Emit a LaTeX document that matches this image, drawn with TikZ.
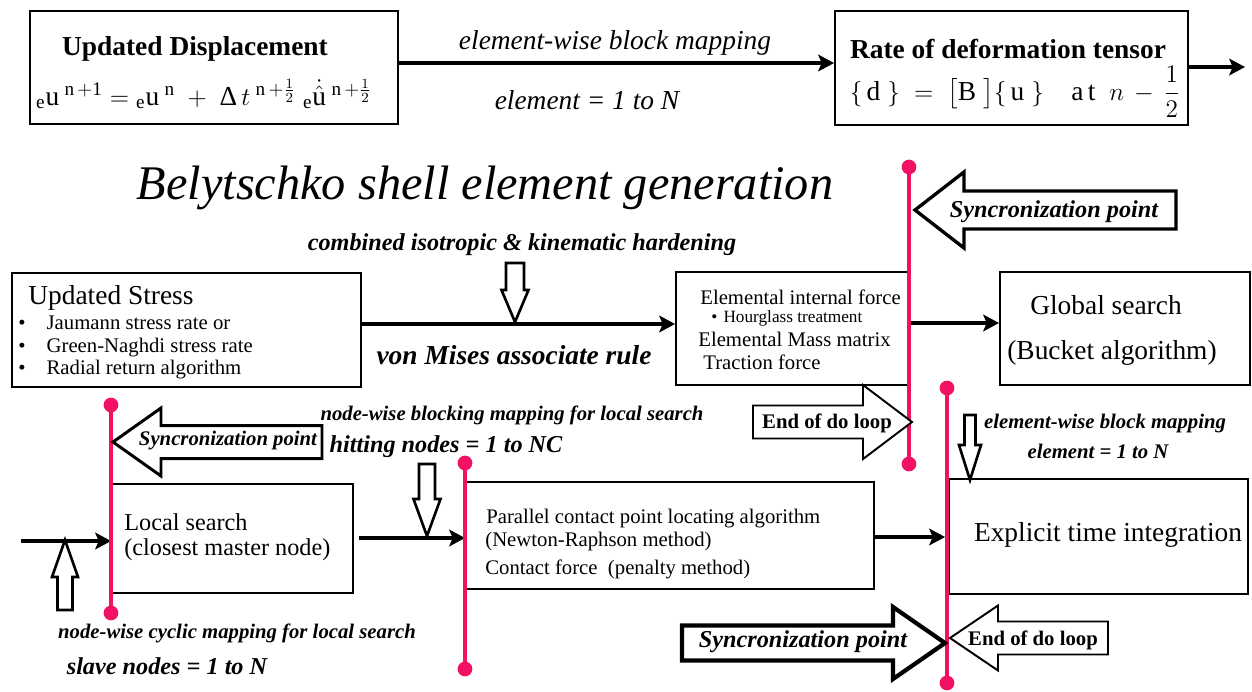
\documentclass[tikz,border=0pt]{standalone}
\usepackage{amsmath}
\usepackage{fontspec}
\setmainfont{Liberation Serif}
\usetikzlibrary{arrows.meta,fit,calc}
\definecolor{syncpink}{RGB}{242,18,100}

\newcommand{\szA}{\fontsize{15.6}{18}\selectfont}
\newcommand{\szB}{\fontsize{13.8}{16}\selectfont}
\newcommand{\szC}{\fontsize{11.8}{14}\selectfont}
\newcommand{\szD}{\fontsize{9.8}{12}\selectfont}
\newcommand{\szT}{\fontsize{27.5}{32}\selectfont}

% hollow block arrow: [style]{tip}{direction}{head length}{head half-width}{body half-width}{body length}
\newcommand{\blockarrow}[7][]{%
  \draw[hollow,#1,shift={#2},rotate=#3] (0,0) -- (-#4,#5) -- (-#4,#6) -- (-#4-#7,#6)
    -- (-#4-#7,-#6) -- (-#4,-#6) -- (-#4,-#5) -- cycle;}

\begin{document}
\begin{tikzpicture}[x=0.02cm,y=-0.02cm,
  box/.style={draw, line width=1.1pt, inner sep=0pt},
  txt/.style={inner sep=0pt},
  flow/.style={line width=2.2pt, -{Stealth[length=9pt,width=9.5pt,inset=2pt]}},
  hollow/.style={draw, fill=white, line width=1.5pt, line join=miter, miter limit=20},
  syncline/.style={draw=syncpink, line width=2.3pt},
  label/.style={inner sep=0pt, font=\szC\bfseries\itshape},
  biglabel/.style={inner sep=0pt, font=\szB\bfseries\itshape}]

\useasboundingbox[fill=white] (0,0) rectangle (1252,691);

% ---------- top row ----------
\node[box, fit={(30,11) (398,124)}] (disp) {};
\node[txt, font=\szA\bfseries] (dispT) at (195,49) {Updated Displacement};
\node[txt, font=\szA] (dispF) at (204,94)
  {${}_{\mathrm e}\mathrm{u}^{\;\mathrm{n\,+1}}={}_{\mathrm e}\mathrm{u}^{\;\mathrm{n}}\;+\;\mbox{Δ}\,t^{\;\mathrm{n}\,+\frac{1}{2}}\;{}_{\mathrm e}\dot{\hat{\mathrm{u}}}^{\;\mathrm{n}\,+\frac{1}{2}}$};

\node[box, fit={(835,11) (1188,125)}] (rate) {};
\node[txt, font=\szA\bfseries] (rateT) at (1008,49) {Rate of deformation tensor};
\node[txt, font=\szA] (rateF) at (1015,92)
  {$\{\,\mathrm{d}\;\}\;=\;\bigl[\mathrm{B}\;\bigr]\{\,\mathrm{u}\;\}\quad\mathrm{a\,t}\;\;n\,-\,\dfrac{1}{2}$};

\coordinate (yA) at (0,63);
\draw[flow] (disp.east |- yA) -- (rate.west |- yA);
\node[txt, font=\szA\itshape] (mapA) at (615,43) {element-wise block mapping};
\node[txt, font=\szA\itshape] (rngA) at (587,100) {element = 1 to N};

\coordinate (outEnd) at (1245,67);
\draw[flow] (rate.east |- outEnd) -- (outEnd);

\node[txt, font=\szT\itshape] (title) at (485,188) {Belytschko shell element generation};

% ---------- middle row ----------
\node[txt, font=\szB\bfseries\itshape] (hard) at (522,245) {combined isotropic \& kinematic hardening};

\node[box, fit={(12,273) (361,387)}] (stress) {};
\node[txt, font=\szA, anchor=west] (stressT) at (28,298) {Updated Stress};
\node[txt, font=\szC, anchor=base west] (st1) at (18,329) {•\hspace{12pt}Jaumann stress rate or};
\node[txt, font=\szC, anchor=base west] (st2) at (18,352) {•\hspace{12pt}Green-Naghdi stress rate};
\node[txt, font=\szC, anchor=base west] (st3) at (18,374) {•\hspace{12pt}Radial return algorithm};

\node[box, fit={(676,272) (909,385)}] (elem) {};
\node[txt, font=\szC, anchor=west] (el1) at (700,297) {Elemental internal force};
\node[txt, font=\szD, anchor=west] (el2) at (711,318) {•\hspace{3.5pt}Hourglass treatment};
\node[txt, font=\szC, anchor=west] (el3) at (698,339) {Elemental Mass matrix};
\node[txt, font=\szC, anchor=west] (el4) at (703,362) {Traction force};

\coordinate (yB) at (0,324);
\draw[flow] (stress.east |- yB) -- (elem.west |- yB);
\blockarrow{(515,322)}{-90}{32}{13.5}{9}{27}
\node[txt, font=\szA\bfseries\itshape] (mises) at (514,355) {von Mises associate rule};

\node[box, fit={(1000,272) (1250,385)}] (global) {};
\node[txt, font=\szA] (gl1) at (1106,305) {Global search};
\node[txt, font=\szA] (gl2) at (1112,353) {(Bucket algorithm)};

\coordinate (yC) at (0,323);
\draw[flow] (elem.east |- yC) -- (global.west |- yC);

% ---------- lower row ----------
\node[box, fit={(112,484) (353,593)}] (local) {};
\node[txt, font=\szB, anchor=west] (lo1) at (124,522) {Local search};
\node[txt, font=\szB, anchor=west] (lo2) at (124,550) {(closest master node)};

\node[box, fit={(466,482) (874,589)}] (par) {};
\node[txt, font=\szC, anchor=west] (pa1) at (486,519) {Parallel contact point locating algorithm};
\node[txt, font=\szC, anchor=west] (pa2) at (485,542) {(Newton-Raphson method)};
\node[txt, font=\szC, anchor=west] (pa3) at (485,569) {Contact force\ \ (penalty method)};

\node[box, fit={(949,479) (1248,594)}] (expl) {};
\node[txt, font=\szA] (ex1) at (1108,535) {Explicit time integration};

\coordinate (inStart) at (21,541);
\draw[flow] (inStart) -- (local.west |- inStart);
\blockarrow{(65,540)}{90}{37}{13}{7.5}{33}

\coordinate (yD) at (0,538);
\draw[flow] ($(local.east |- yD)+(5,0)$) -- (par.west |- yD);
\blockarrow{(427,536)}{-90}{37}{13.5}{8}{35}

\coordinate (yE) at (0,537);
\draw[flow] (par.east |- yE) -- ($(expl.west |- yE)+(-3,0)$);
\blockarrow{(970,480)}{-90}{35}{11}{5.5}{30}

\node[label] (blk) at (512,415) {node-wise blocking mapping for local search};
\node[biglabel] (hit) at (446,447) {hitting nodes = 1 to NC};
\node[label] (cyc) at (237,633) {node-wise cyclic mapping for local search};
\node[biglabel] (slv) at (167,666) {slave nodes = 1 to N};
\node[label] (mapB) at (1105,424) {element-wise block mapping};
\node[label] (rngB) at (1098,451) {element = 1 to N};

% ---------- synchronization lines ----------
\coordinate (p1a) at (909,167); \coordinate (p1b) at (909,464);
\coordinate (p2a) at (947,388); \coordinate (p2b) at (947,683);
\coordinate (p3a) at (111,405); \coordinate (p3b) at (111,613);
\coordinate (p4a) at (465,463); \coordinate (p4b) at (465,669);
\foreach \a/\b in {p1a/p1b,p2a/p2b,p3a/p3b,p4a/p4b}{
  \draw[syncline] (\a) -- (\b);
  \fill[syncpink] (\a) circle (4.2pt);
  \fill[syncpink] (\b) circle (4.2pt);
}

% ---------- block arrows with captions ----------
\blockarrow[line width=1.9pt]{(915,210)}{180}{49}{38}{19}{212}
\node[biglabel] (syncA) at (1054,212) {Syncronization point};

\blockarrow[line width=1.1pt]{(912,422)}{0}{49}{37}{16.5}{110}
\node[txt, font=\szC\bfseries] (endA) at (827,423) {End of do loop};

\blockarrow[line width=1.7pt]{(113,442)}{180}{48}{34}{16.5}{161}
\node[label] (syncB) at (228,441) {Syncronization point};

\blockarrow[line width=2.4pt]{(945,643)}{0}{52}{36}{17.5}{211}
\node[biglabel] (syncC) at (803,642) {Syncronization point};

\blockarrow[line width=1.1pt]{(950,638)}{180}{48}{32.5}{16.5}{110}
\node[txt, font=\szC\bfseries] (endB) at (1033,640) {End of do loop};
\end{tikzpicture}
\end{document}
